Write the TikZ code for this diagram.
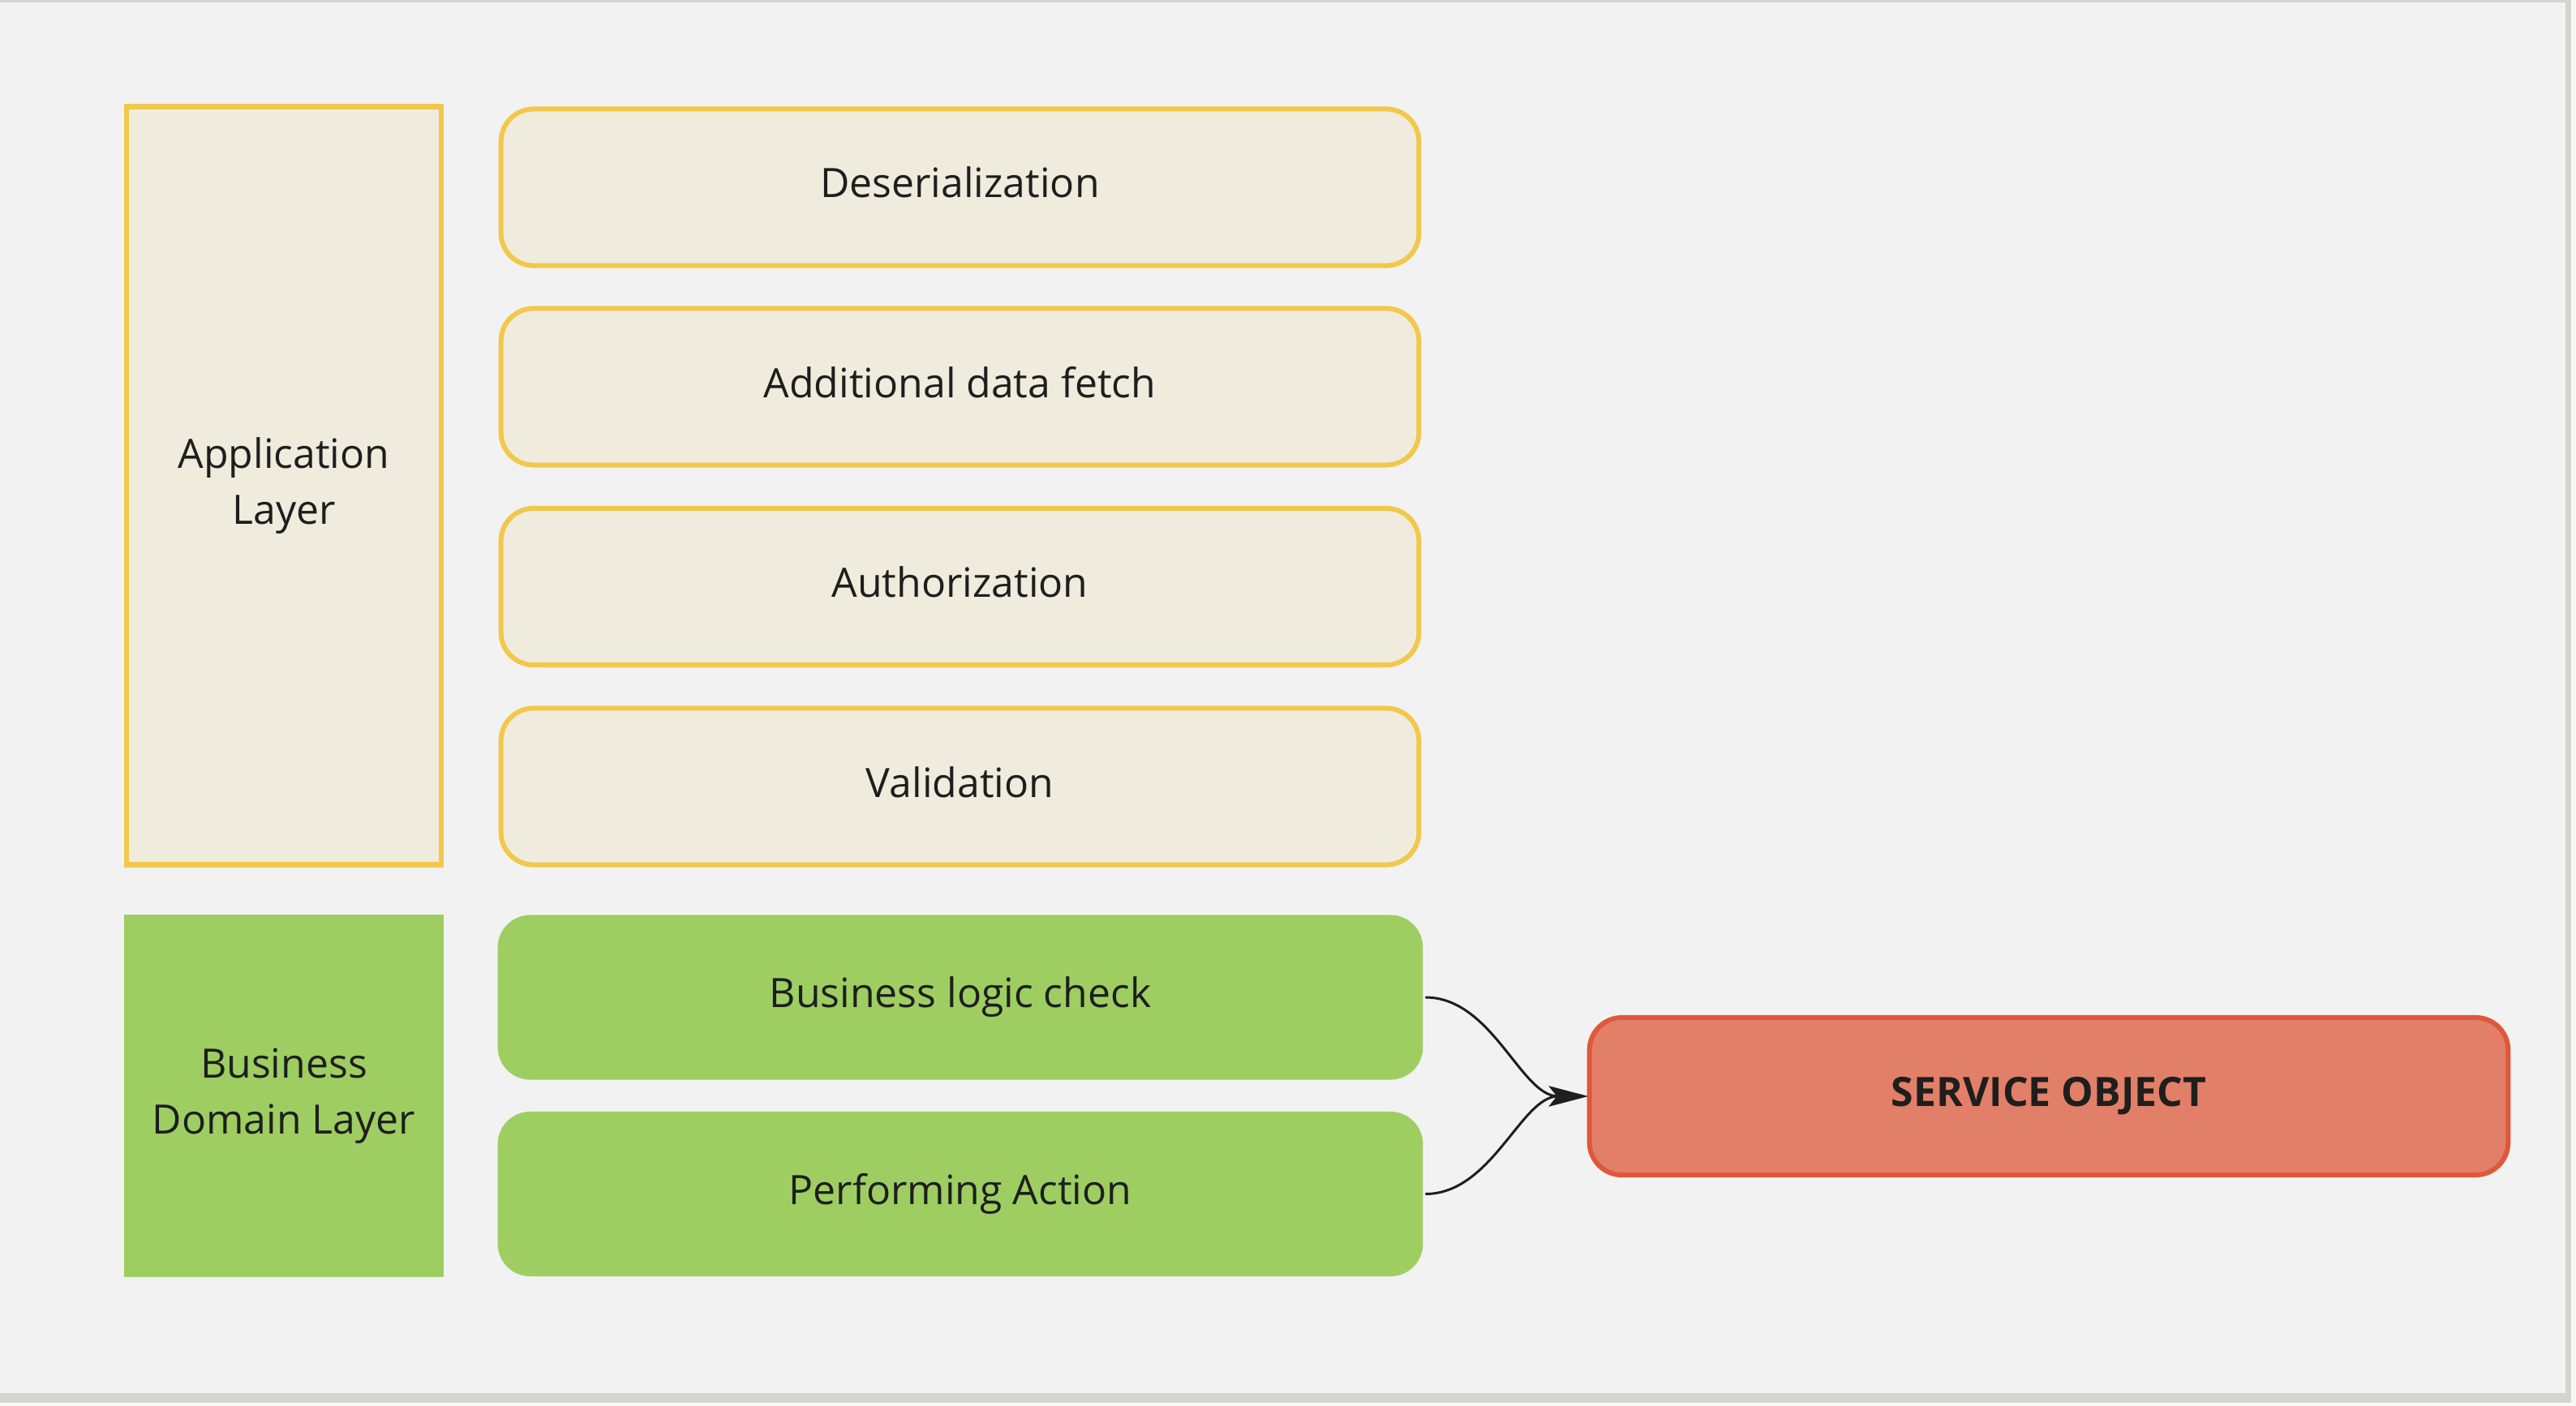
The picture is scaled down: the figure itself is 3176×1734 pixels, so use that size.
\documentclass[tikz,border=0pt]{standalone}
\usepackage{fontspec}
\setmainfont{Open Sans}
\usetikzlibrary{arrows.meta}
\definecolor{bgc}{HTML}{F2F2F2}
\definecolor{framec}{HTML}{D4D4D2}
\definecolor{outc}{HTML}{F7F7F5}
\definecolor{yelstroke}{HTML}{F2C84B}
\definecolor{yelfill}{HTML}{EFEBDD}
\definecolor{greenc}{HTML}{9ECE62}
\definecolor{redfill}{HTML}{E27F68}
\definecolor{redstroke}{HTML}{DF583B}
\definecolor{txt}{HTML}{1E1E1E}
\tikzset{
  x=0.01cm, y=-0.01cm,
  every node/.style={text=txt, font=\fontsize{14.2}{19.6}\selectfont, align=center, inner sep=0pt, outer sep=0pt},
  layerbox/.style={draw=yelstroke, fill=yelfill, line width=0.065cm, rectangle},
  stagebox/.style={draw=yelstroke, fill=yelfill, line width=0.06cm, rounded corners=0.4cm, minimum width=11.31cm, minimum height=1.93cm, text height=0.38cm, text depth=0.12cm},
  greenbox/.style={fill=greenc, rounded corners=0.4cm, minimum width=11.40cm, minimum height=2.03cm},
  svcbox/.style={draw=redstroke, fill=redfill, line width=0.06cm, rounded corners=0.4cm, minimum width=11.32cm, minimum height=1.94cm, font=\fontsize{14.2}{19.6}\selectfont\bfseries},
  conn/.style={line width=0.03cm, draw=txt, -{Stealth[length=0.48cm, width=0.25cm, inset=0.1cm]}}
}
\begin{document}
\begin{tikzpicture}
\fill[outc] (0,0) rectangle (3176,1734);
\fill[framec] (0,0) rectangle (3170,1730);
\fill[bgc] (0,3) rectangle (3163,1718);
\useasboundingbox (0,0) rectangle (3176,1734);

\node[layerbox, minimum width=3.88cm, minimum height=9.34cm] (app) at (350,599) {Application\\Layer};
\node[fill=greenc, minimum width=3.94cm, minimum height=4.47cm] (dom) at (350,1351.5) {Business\\Domain Layer};

\node[stagebox] (s1) at (1183.5,231) {Deserialization};
\node[stagebox] (s2) at (1183.5,477) {Additional data fetch};
\node[stagebox] (s3) at (1183.5,723.5) {Authorization};
\node[stagebox] (s4) at (1183.5,970) {Validation};

\node[greenbox] (g1) at (1184,1230) {Business logic check};
\node[greenbox] (g2) at (1184,1472.5) {Performing Action};

\node[svcbox] (svc) at (2526,1352) {SERVICE OBJECT};

\draw[conn] ([xshift=0.03cm]g1.east) to[out=0,in=180,looseness=0.9] ([xshift=-0.02cm]svc.west);
\draw[conn] ([xshift=0.03cm]g2.east) to[out=0,in=180,looseness=0.9] ([xshift=-0.02cm]svc.west);
\end{tikzpicture}
\end{document}
